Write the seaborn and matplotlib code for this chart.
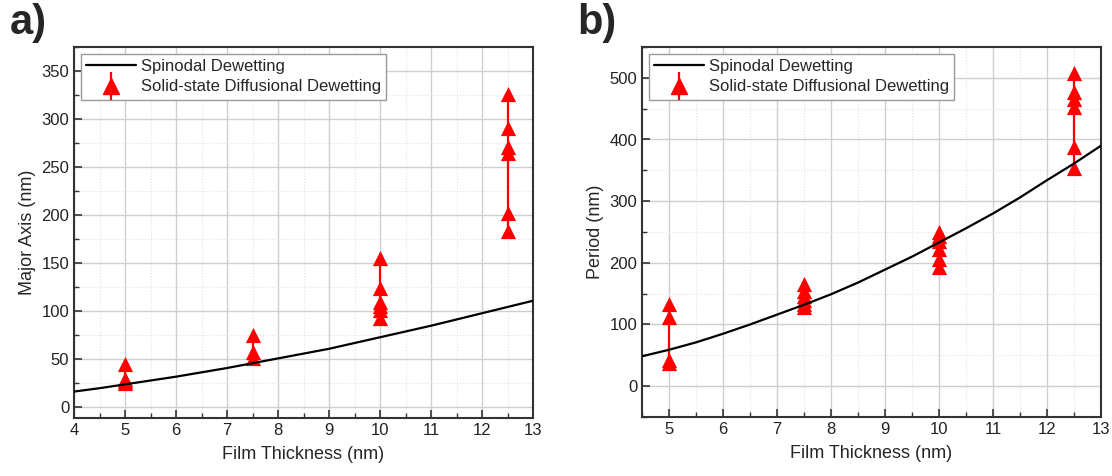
import numpy as np
import pandas as pd
import seaborn as sns
import matplotlib.pyplot as plt
from matplotlib.lines import Line2D
from matplotlib.legend_handler import HandlerTuple
from matplotlib.ticker import MultipleLocator

# curva spinodal (x em nm)
curva_a_x = [4, 4.5, 5, 5.5, 6, 6.5, 7, 7.5, 8, 8.5, 9, 9.5, 10, 10.5, 11, 11.5, 12, 12.5, 13]
curva_a_y = [16.5, 20, 24, 28, 32, 36.5, 41, 46, 51, 56, 61, 67, 73, 79, 85, 91.5, 98, 104.5, 111]
curva_b_x = [4.5, 5, 5.5, 6, 6.5, 7, 7.5, 8, 8.5, 9, 9.5, 10, 10.5, 11, 11.5, 12, 12.5, 13]
curva_b_y = [48.5, 59, 71, 85, 100, 116, 132, 149, 168, 189, 210, 233, 256, 280, 306, 334, 361, 390]

# pontos experimentais (triângulos vermelhos)
esp_a = [5, 5, 5, 5, 7.5, 7.5, 7.5, 10, 10, 10, 10, 10, 10, 12.5, 12.5, 12.5, 12.5, 12.5, 12.5]
eixo_maior = [45, 30, 27, 25, 75, 58, 51, 155, 124, 110, 106, 101, 93, 326, 291, 271, 265, 202, 184]
esp_b = [5, 5, 5, 5, 7.5, 7.5, 7.5, 7.5, 7.5, 7.5, 10, 10, 10, 10, 10, 10, 12.5, 12.5, 12.5, 12.5, 12.5, 12.5]
periodo = [134, 112, 42, 38, 165, 155, 147, 140, 133, 128, 250, 243, 235, 222, 207, 194, 508, 477, 466, 453, 388, 353]

sns.set_style("ticks")
plt.rcParams['font.family'] = ['Liberation Sans', 'DejaVu Sans']

fig = plt.figure(figsize=(11.12, 4.76), dpi=100)
ax_a = fig.add_axes([74 / 1112, 58 / 476, 459 / 1112, 371 / 476])
ax_b = fig.add_axes([642 / 1112, 59 / 476, 459 / 1112, 370 / 476])


def desenha(ax, cx, cy, px, py, xlim, ylim, ymaj, ylabel, letra):
    tab = pd.DataFrame({"x": px, "y": py})
    # grade
    ax.xaxis.set_major_locator(MultipleLocator(1))
    ax.xaxis.set_minor_locator(MultipleLocator(0.5))
    ax.yaxis.set_major_locator(MultipleLocator(ymaj))
    ax.yaxis.set_minor_locator(MultipleLocator(ymaj / 2))
    ax.grid(which="major", color="#cfcfcf", lw=1.0, ls="-")
    ax.grid(which="minor", color="#e2e2e2", lw=0.8, ls=":")
    ax.set_axisbelow(True)

    # linhas verticais ligando os pontos de cada espessura
    grp = tab.groupby("x")["y"]
    ax.vlines(grp.min().index, grp.min().values, grp.max().values, color="red", lw=1.6, zorder=3)
    sns.scatterplot(data=tab, x="x", y="y", marker="^", s=120, color="red",
                    edgecolor="red", linewidth=0, ax=ax, zorder=4, legend=False)
    sns.lineplot(x=cx, y=cy, color="black", lw=1.6, ax=ax, zorder=5, legend=False)

    ax.set_xlim(*xlim)
    ax.set_ylim(*ylim)
    ax.set_xlabel("Film Thickness (nm)", fontsize=13, labelpad=6)
    ax.set_ylabel(ylabel, fontsize=13, labelpad=4)
    ax.tick_params(which="both", direction="in", top=False, right=False,
                   labelsize=12, color="#333333", labelcolor="#222222")
    ax.tick_params(which="major", length=6, width=1.2)
    ax.tick_params(which="minor", length=3.5, width=1.0)
    for s in ax.spines.values():
        s.set_linewidth(1.5)
        s.set_color("#333333")
        s.set_visible(True)

    h1 = Line2D([], [], color="black", lw=1.6)
    h2a = Line2D([], [], color="red", marker="|", ls="none", markersize=20, markeredgewidth=1.6)
    h2b = Line2D([], [], color="red", marker="^", ls="none", markersize=11)
    leg = ax.legend([h1, (h2a, h2b)], ["Spinodal Dewetting", "Solid-state Diffusional Dewetting"],
                    handler_map={tuple: HandlerTuple(ndivide=1)},
                    loc="upper left", fontsize=12, frameon=True, fancybox=False,
                    edgecolor="#999999", framealpha=1, borderaxespad=0.4,
                    handlelength=3.0, handletextpad=0.3, borderpad=0.3, labelspacing=0.35)
    leg.get_frame().set_linewidth(1.0)

    ax.text(-0.14, 1.01, letra, transform=ax.transAxes, fontsize=30,
            fontweight="bold", ha="left", va="bottom")


desenha(ax_a, curva_a_x, curva_a_y, esp_a, eixo_maior, (4, 13), (-11, 375), 50,
        "Major Axis (nm)", "a)")
desenha(ax_b, curva_b_x, curva_b_y, esp_b, periodo, (4.5, 13), (-50, 550), 100,
        "Period (nm)", "b)")

fig.savefig("out.png", dpi=100)
